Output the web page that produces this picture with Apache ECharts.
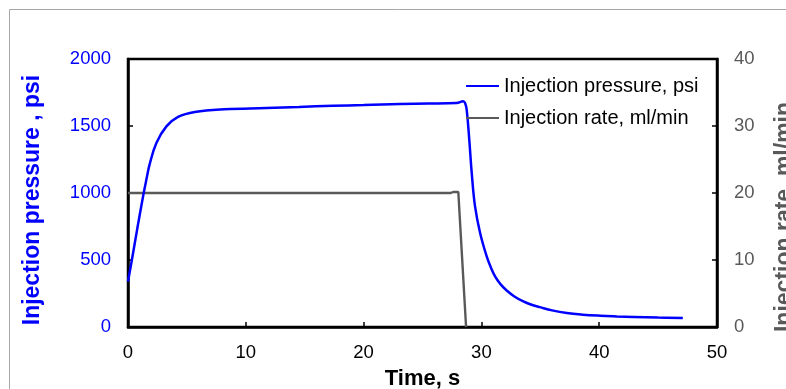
<!DOCTYPE html>
<html>
<head>
<meta charset="utf-8">
<script src="https://cdn.jsdelivr.net/npm/echarts@6/dist/echarts.min.js"></script>
<style>
  html, body { margin: 0; padding: 0; background: #fff; }
  #chart { width: 786px; height: 389px; }
</style>
</head>
<body>
<div id="chart"></div>
<script>
// pressure curve
const pressureTime = [0, 0.34, 0.8, 1.3, 1.56, 1.84, 2.41, 3.26, 4.25, 5.67, 8.2, 11.76, 14.5, 17.4, 20, 23.1, 25.5, 27.9, 28.46, 28.62, 28.75, 28.97, 29.18, 29.46, 29.89, 30.45, 30.8, 31.16, 31.6, 32.15, 32.8, 33.56, 34.2, 34.98, 36, 37.25, 38.6, 40.1, 41.5, 42.9, 45, 47.1];
const pressure = [340, 505, 740, 985, 1100, 1215, 1373, 1497, 1568, 1605, 1625, 1634, 1642, 1651, 1656, 1664, 1667, 1672, 1684, 1670, 1622, 1398, 1149, 900, 702, 527, 445, 378, 322, 272, 228, 191, 168, 148, 124, 104, 92, 84, 79, 75, 70, 67];

// injection rate
const rateTime = [0, 27.4, 27.6, 28.04, 28.7];
const rate = [20, 20, 20.15, 20.15, 0];

const xTicks = { min: 0, max: 50, interval: 10 };
const pTicks = { min: 0, max: 2000, interval: 500 };
const rTicks = { min: 0, max: 40, interval: 10 };

const FONT = 'Arial, "Liberation Sans", sans-serif';
const BLUE = '#0000ff';
const GREY = '#595959';
const plain = (v) => String(v);

const chart = echarts.init(document.getElementById('chart'), null, { renderer: 'canvas' });

chart.setOption({
  backgroundColor: '#fff',
  animation: false,
  textStyle: { fontFamily: FONT },
  graphic: [{
    type: 'rect',
    shape: { x: 9.5, y: 9.5, width: 900, height: 500 },
    style: { fill: 'none', stroke: '#a6a6a6', lineWidth: 1 },
    z: -10
  }],
  grid: {
    left: 128, top: 59, right: 69, bottom: 62,
    containLabel: false,
    outerBoundsMode: 'none',
    show: true, borderColor: '#000', borderWidth: 2.5, backgroundColor: 'transparent'
  },
  legend: {
    orient: 'vertical',
    left: 460, top: 71,
    itemWidth: 33, itemHeight: 14, itemGap: 12,
    itemStyle: { opacity: 0 },
    textStyle: { fontFamily: FONT, fontSize: 20, color: '#000' },
    data: ['Injection pressure, psi', 'Injection rate, ml/min']
  },
  xAxis: {
    type: 'value',
    ...xTicks,
    name: 'Time, s',
    nameLocation: 'middle',
    nameGap: 41,
    nameTextStyle: { fontFamily: FONT, fontSize: 22, fontWeight: 'bold', color: '#000' },
    axisLine: { lineStyle: { color: '#000', width: 2.5 } },
    axisTick: { inside: true, length: 5, lineStyle: { color: '#000', width: 1.5 } },
    axisLabel: { fontFamily: FONT, fontSize: 18.5, color: '#000', margin: 16, formatter: plain },
    splitLine: { show: false }
  },
  yAxis: [{
    type: 'value',
    ...pTicks,
    position: 'left',
    name: 'Injection pressure , psi',
    nameLocation: 'middle',
    nameGap: 84,
    nameTextStyle: { fontFamily: FONT, fontSize: 23, fontWeight: 'bold', color: BLUE, padding: [0, 14, 0, 0] },
    axisLine: { show: true, lineStyle: { color: '#000', width: 2.5 } },
    axisTick: { show: true, inside: true, length: 5, lineStyle: { color: '#000', width: 1.5 } },
    axisLabel: { fontFamily: FONT, fontSize: 18.5, color: BLUE, margin: 17, formatter: plain },
    splitLine: { show: false }
  }, {
    type: 'value',
    ...rTicks,
    position: 'right',
    name: 'Injection rate, ml/min',
    nameLocation: 'middle',
    nameGap: 56,
    nameTextStyle: { fontFamily: FONT, fontSize: 23, fontWeight: 'bold', color: GREY, padding: [0, 48, 0, 0] },
    axisLine: { show: true, lineStyle: { color: '#000', width: 2.5 } },
    axisTick: { show: true, inside: true, length: 5, lineStyle: { color: '#000', width: 1.5 } },
    axisLabel: { fontFamily: FONT, fontSize: 18.5, color: GREY, margin: 17, formatter: plain },
    splitLine: { show: false }
  }],
  series: [{
    name: 'Injection pressure, psi',
    type: 'line',
    yAxisIndex: 0,
    data: pressureTime.map((t, i) => [t, pressure[i]]),
    symbol: 'none',
    smooth: 0.4,
    lineStyle: { color: BLUE, width: 2.5 },
    itemStyle: { color: BLUE },
    z: 3
  }, {
    name: 'Injection rate, ml/min',
    type: 'line',
    yAxisIndex: 1,
    data: rateTime.map((t, i) => [t, rate[i]]),
    symbol: 'none',
    lineStyle: { color: GREY, width: 2.4 },
    itemStyle: { color: GREY },
    z: 2
  }]
});
</script>
</body>
</html>
